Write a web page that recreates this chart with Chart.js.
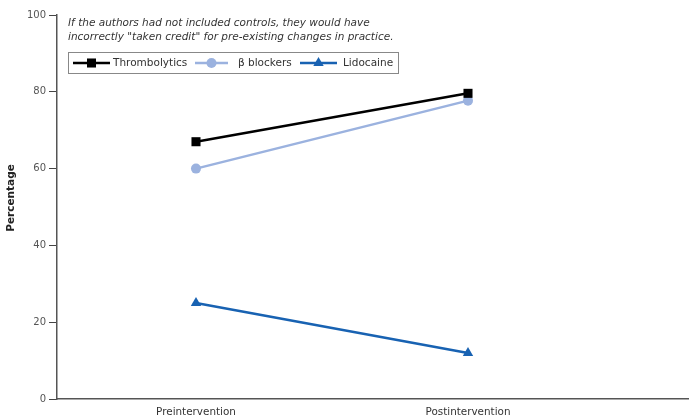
<!DOCTYPE html>
<html>
<head>
<meta charset="utf-8">
<script src="https://cdn.jsdelivr.net/npm/chart.js@4"></script>
<style>
  html, body { margin: 0; padding: 0; background: #fff; }
  #wrap { width: 689px; height: 419px; }
</style>
</head>
<body>
<div id="wrap"><canvas id="chart" width="689" height="419"></canvas></div>
<script>
// data
const categories = ['Preintervention', 'Postintervention'];
const thrombolytics = [67, 79.6];
const betaBlockers = [60, 77.7];
const lidocaine = [25, 12];
const yTicks = [0, 20, 40, 60, 80, 100];
const noteLines = [
  'If the authors had not included controls, they would have',
  'incorrectly "taken credit" for pre-existing changes in practice.'
];

const FONT = '"DejaVu Sans", Verdana, sans-serif';

const series = [
  { label: 'Thrombolytics', values: thrombolytics, color: '#000000', style: 'rect', radius: 6.4 },
  { label: 'β blockers', values: betaBlockers, color: '#9bb2df', style: 'circle', radius: 5 },
  { label: 'Lidocaine', values: lidocaine, color: '#1862b2', style: 'triangle', radius: 6 }
];

// note text, legend box and axis title drawn on the canvas
const extras = {
  id: 'extras',
  afterDraw(chart) {
    const ctx = chart.ctx;
    ctx.save();
    ctx.fillStyle = '#333';
    ctx.font = 'italic 10.5px ' + FONT;
    ctx.textBaseline = 'middle';
    ctx.textAlign = 'left';
    ctx.fillText(noteLines[0], 68, 23);
    ctx.fillText(noteLines[1], 68, 37);

    // legend
    ctx.strokeStyle = '#888';
    ctx.lineWidth = 1;
    ctx.strokeRect(68.5, 52.5, 330, 21);
    const items = [
      { x0: 73, x1: 110, tx: 113 },
      { x0: 195, x1: 228, tx: 238 },
      { x0: 300, x1: 337, tx: 343 }
    ];
    const ly = 63;
    items.forEach((it, i) => {
      const s = series[i];
      ctx.strokeStyle = s.color;
      ctx.lineWidth = 2.5;
      ctx.beginPath();
      ctx.moveTo(it.x0, ly);
      ctx.lineTo(it.x1, ly);
      ctx.stroke();
      ctx.fillStyle = s.color;
      Chart.helpers.drawPoint(ctx, { pointStyle: s.style, radius: s.radius, rotation: 0, borderWidth: 0 }, (it.x0 + it.x1) / 2, ly);
      ctx.fillStyle = '#333';
      ctx.font = '10.5px ' + FONT;
      ctx.fillText(s.label, it.tx, ly);
    });

    // y axis title
    ctx.translate(11, 198);
    ctx.rotate(-Math.PI / 2);
    ctx.textAlign = 'center';
    ctx.fillStyle = '#222';
    ctx.font = 'bold 10.5px ' + FONT;
    ctx.fillText('Percentage', 0, 0);
    ctx.restore();
  }
};

new Chart(document.getElementById('chart'), {
  type: 'line',
  data: {
    datasets: series.map(s => ({
      label: s.label,
      data: s.values.map((v, i) => ({ x: i, y: v })),
      borderColor: s.color,
      backgroundColor: s.color,
      borderWidth: 2.5,
      pointStyle: s.style,
      pointRadius: s.radius,
      pointHoverRadius: s.radius,
      pointBorderWidth: 0,
      tension: 0
    }))
  },
  options: {
    responsive: false,
    animation: false,
    devicePixelRatio: 1,
    layout: { autoPadding: false, padding: { top: 15, right: 0, bottom: 0, left: 0 } },
    plugins: { legend: { display: false }, tooltip: { enabled: false } },
    scales: {
      x: {
        type: 'linear',
        min: -0.511,
        max: 1.8125,
        afterBuildTicks: sc => { sc.ticks = categories.map((c, i) => ({ value: i })); },
        afterFit: sc => { sc.height = 20; sc.paddingLeft = 0; sc.paddingRight = 0; },
        ticks: {
          callback: v => categories[v],
          color: '#333',
          font: { family: FONT, size: 10.4 },
          padding: 7,
          maxRotation: 0
        },
        grid: { display: false, drawTicks: false },
        border: { display: true, color: '#555', width: 1.5 }
      },
      y: {
        min: 0,
        max: 100,
        afterBuildTicks: sc => { sc.ticks = yTicks.map(v => ({ value: v })); },
        afterFit: sc => { sc.width = 57; },
        ticks: {
          color: '#555',
          font: { family: FONT, size: 10 },
          padding: 3
        },
        grid: { drawOnChartArea: false, tickLength: 8, color: '#444', lineWidth: 1 },
        border: { display: true, color: '#555', width: 1.5 }
      }
    }
  },
  plugins: [extras]
});
</script>
</body>
</html>
